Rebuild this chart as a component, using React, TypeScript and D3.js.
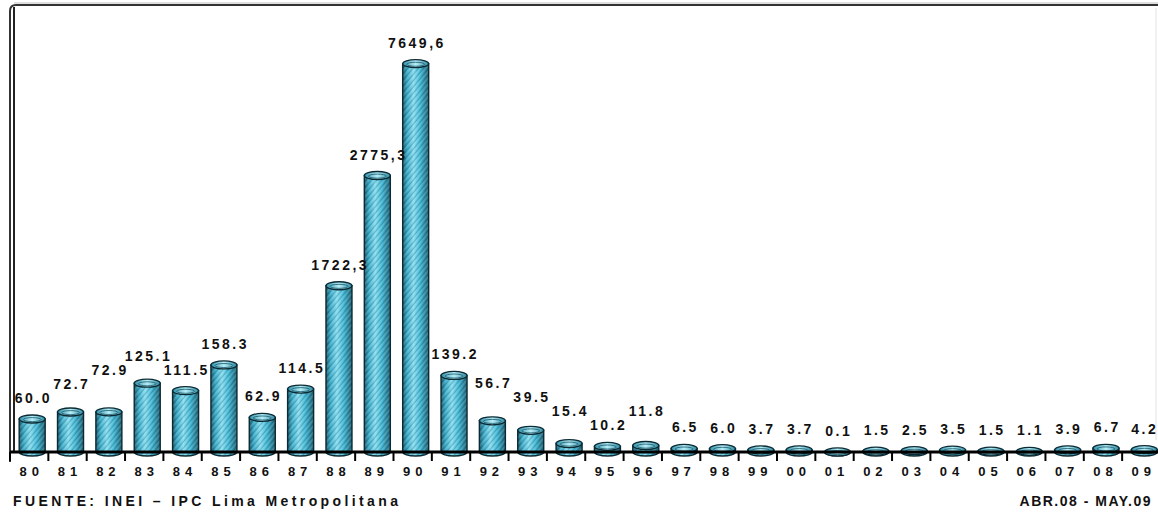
import React from "react";
import * as d3 from "d3";

// Annual inflation, Lima Metropolitana (% change of the CPI)
const categories = [
  "80", "81", "82", "83", "84", "85", "86", "87", "88", "89",
  "90", "91", "92", "93", "94", "95", "96", "97", "98", "99",
  "00", "01", "02", "03", "04", "05", "06", "07", "08", "09",
];
const values = [
  60.0, 72.7, 72.9, 125.1, 111.5, 158.3, 62.9, 114.5, 1722.3, 2775.3,
  7649.6, 139.2, 56.7, 39.5, 15.4, 10.2, 11.8, 6.5, 6.0, 3.7,
  3.7, 0.1, 1.5, 2.5, 3.5, 1.5, 1.1, 3.9, 6.7, 4.2,
];
const sourceNote = "FUENTE: INEI \u2013 IPC Lima Metropolitana";
const periodNote = "ABR.08 - MAY.09";

const W = 1158;
const H = 512;
const baseline = 452;
const step = 38.35;
const left = 10;
const barW = 26;
const capRy = 4;
const FONT = "'Liberation Sans', Arial, Helvetica, sans-serif";
const LABEL_SIZE = 14;
const LABEL_LS = 2.5;

const fmt = (v: number) =>
  v >= 1000 ? v.toFixed(1).replace(".", ",") : v.toFixed(1);

// rough width of a bold label, used to keep neighbouring labels apart
const labelWidth = (s: string) =>
  s.split("").reduce((w, ch) => w + (ch === "." || ch === "," ? 3.9 : 7.8) + LABEL_LS, 0);

export default function App() {
  const x = d3
    .scaleBand<string>()
    .domain(categories)
    .range([left, left + step * categories.length])
    .padding(0);

  // broken value axis: the hyperinflation years are compressed
  const y = d3
    .scaleLinear()
    .domain([0, 200, 1500, 3000, 8000])
    .range([baseline, baseline - 110, baseline - 143, baseline - 300, baseline - 395]);

  const ticks = categories.map((c) => x(c) as number);
  const barCx = (c: string) => (x(c) as number) + step / 2 + 3;

  // value labels: placed above each cap, then lifted where neighbours crowd
  const labels = categories.map((c, i) => {
    const text = fmt(values[i]);
    const w = labelWidth(text);
    let cx = barCx(c);
    if (cx + w / 2 > W - 1) cx = W - 1 - w / 2;
    return { text, cx, w, y: y(values[i]) - capRy - 12, v: values[i] };
  });
  for (let pass = 0; pass < 6; pass++) {
    for (let i = 1; i < labels.length; i++) {
      const a = labels[i - 1];
      const b = labels[i];
      const hOverlap = Math.abs(a.cx - b.cx) < (a.w + b.w) / 2 + 3;
      const vOverlap = Math.abs(a.y - b.y) < 12;
      if (hOverlap && vOverlap) {
        if (a.v > b.v) a.y = Math.min(a.y, b.y - 14);
        else b.y = Math.min(b.y, a.y - 14);
      }
    }
  }

  return (
    <svg
      width={W}
      height={H}
      style={{ position: "absolute", left: 0, top: 0, background: "#fff" }}
    >
      <defs>
        <linearGradient id="cyl" x1="0" x2="1" y1="0" y2="0">
          <stop offset="0%" stopColor="#155466" />
          <stop offset="18%" stopColor="#36abc9" />
          <stop offset="42%" stopColor="#86dbee" />
          <stop offset="68%" stopColor="#3cb5d3" />
          <stop offset="100%" stopColor="#185a6e" />
        </linearGradient>
        <pattern
          id="hatch"
          width="4"
          height="4"
          patternUnits="userSpaceOnUse"
          patternTransform="rotate(40)"
        >
          <line x1="0" y1="0" x2="0" y2="4" stroke="#0f4a5a" strokeOpacity="0.4" strokeWidth="1.3" />
          <line x1="2" y1="0" x2="2" y2="4" stroke="#ffffff" strokeOpacity="0.3" strokeWidth="1" />
        </pattern>
        <linearGradient id="cap" x1="0" x2="1" y1="0" y2="0">
          <stop offset="0%" stopColor="#2b8ea8" />
          <stop offset="50%" stopColor="#b6eef8" />
          <stop offset="100%" stopColor="#2a8aa3" />
        </linearGradient>
      </defs>

      {/* frame */}
      <line x1={14} y1={3} x2={W} y2={3} stroke="#bdbdbd" strokeWidth={1} />
      <path
        d={`M10,462 V11 Q10,5 16,5 H${W}`}
        fill="none"
        stroke="#333"
        strokeWidth={2}
      />
      <line x1={14} y1={7} x2={14} y2={baseline} stroke="#222" strokeWidth={2} />
      <line x1={1156} y1={8} x2={1156} y2={440} stroke="#e2e2e2" strokeWidth={1} />

      {/* cylinders */}
      {categories.map((c, i) => {
        const cx = barCx(c);
        const top = y(values[i]);
        const l = cx - barW / 2;
        const r = cx + barW / 2;
        const body = `M${l},${top} V${baseline} A${barW / 2},${capRy} 0 0 0 ${r},${baseline} V${top} Z`;
        return (
          <g key={c}>
            <path d={body} fill="url(#cyl)" />
            <path d={body} fill="url(#hatch)" stroke="#0c2a33" strokeWidth={1.4} />
            <ellipse
              cx={cx}
              cy={top}
              rx={barW / 2}
              ry={capRy}
              fill="url(#cap)"
              stroke="#0c2a33"
              strokeWidth={1.3}
            />
            <ellipse
              cx={cx}
              cy={top + 0.6}
              rx={barW / 2 - 4}
              ry={capRy - 2}
              fill="none"
              stroke="#1d5566"
              strokeWidth={0.8}
            />
          </g>
        );
      })}

      {/* value labels */}
      {labels.map((lb, i) => (
        <text
          key={`v${i}`}
          x={lb.cx + LABEL_LS / 2}
          y={lb.y}
          textAnchor="middle"
          fontFamily={FONT}
          fontWeight="bold"
          fontSize={LABEL_SIZE}
          letterSpacing={LABEL_LS}
          fill="#111"
        >
          {lb.text}
        </text>
      ))}

      {/* category axis */}
      <line x1={left} y1={baseline} x2={W} y2={baseline} stroke="#000" strokeWidth={3} />
      {ticks.map((t, i) => (
        <line key={`t${i}`} x1={t} y1={baseline} x2={t} y2={baseline + 9} stroke="#000" strokeWidth={2} />
      ))}
      {categories.map((c) => (
        <text
          key={`c${c}`}
          x={(x(c) as number) + step / 2 + 2.5}
          y={476}
          textAnchor="middle"
          fontFamily={FONT}
          fontWeight="bold"
          fontSize={13}
          letterSpacing={5}
          fill="#111"
        >
          {c}
        </text>
      ))}

      {/* notes */}
      <text
        x={13}
        y={506}
        fontFamily={FONT}
        fontWeight="bold"
        fontSize={14}
        textLength={385}
        lengthAdjust="spacing"
        fill="#111"
      >
        {sourceNote}
      </text>
      <text
        x={1152}
        y={506}
        textAnchor="end"
        fontFamily={FONT}
        fontWeight="bold"
        fontSize={14}
        letterSpacing={1.5}
        fill="#111"
      >
        {periodNote}
      </text>
    </svg>
  );
}
